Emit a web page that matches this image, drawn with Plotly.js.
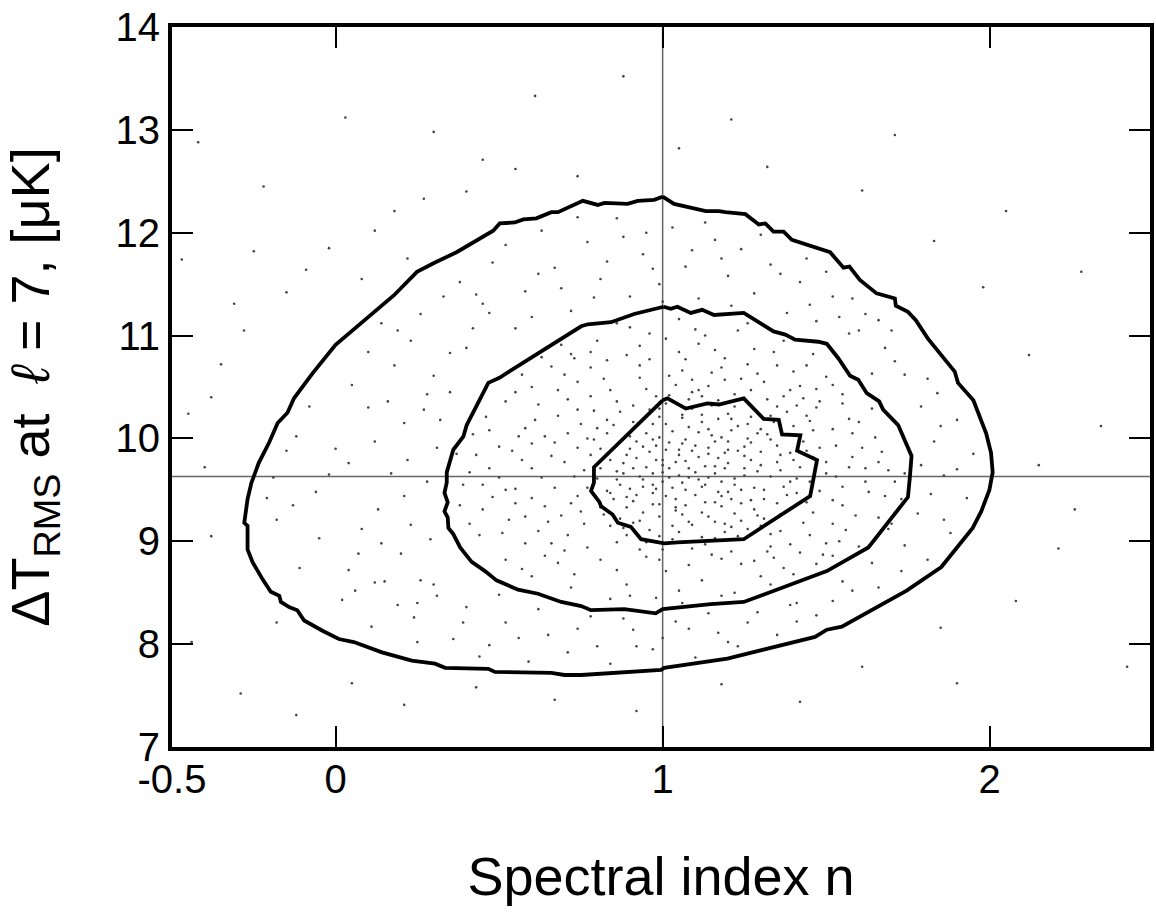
<!DOCTYPE html>
<html>
<head>
<meta charset="utf-8">
<script src="https://cdn.plot.ly/plotly-3.0.1.min.js"></script>
<style>html,body{margin:0;padding:0;background:#fff;}#chart{width:1156px;height:917px;}</style>
</head>
<body>
<div id="chart"></div>
<script>
// ---- reference lines ----
const refN = 1.0;
const refT = 9.63;

// ---- tick labels ----
const xTickVals = [-0.5, 0, 1, 2];
const xTickText = ['-0.5', '0', '1', '2'];
const yTickVals = [7, 8, 9, 10, 11, 12, 13, 14];

// ---- contour: outer ----
const outerN = [1.00,1.035,1.132,1.172,1.192,1.253,1.294,1.314,1.339,1.370,1.395,1.456,1.512,1.553,1.571,1.603,1.654,1.710,1.713,1.750,1.774,1.811,1.893,1.903,1.950,1.989,2.004,2.009,1.999,1.974,1.948,1.852,1.746,1.548,1.502,1.466,1.360,1.258,1.198,1.005,0.995,0.751,0.700,0.660,0.487,0.467,0.335,0.304,0.233,0.142,0.056,0.010,-0.040,-0.096,-0.117,-0.142,-0.167,-0.172,-0.198,-0.223,-0.254,-0.269,-0.269,-0.279,-0.269,-0.257,-0.235,-0.203,-0.177,-0.147,-0.127,-0.071,0.000,0.178,0.249,0.304,0.370,0.482,0.502,0.548,0.574,0.614,0.660,0.680,0.756,0.802,0.822,0.893,0.924,0.974,1.00];
const outerT = [12.35,12.28,12.21,12.21,12.20,12.18,12.08,12.09,12.01,12.01,11.93,11.87,11.81,11.66,11.67,11.54,11.41,11.36,11.29,11.23,11.15,10.97,10.65,10.54,10.37,10.05,9.86,9.67,9.50,9.29,9.13,8.75,8.52,8.17,8.14,8.07,7.99,7.91,7.86,7.77,7.75,7.70,7.70,7.72,7.73,7.76,7.77,7.81,7.84,7.92,8.02,8.05,8.13,8.23,8.33,8.36,8.41,8.47,8.51,8.63,8.80,8.92,9.15,9.18,9.41,9.57,9.76,9.96,10.15,10.25,10.39,10.63,10.91,11.39,11.62,11.71,11.81,12.02,12.09,12.10,12.13,12.14,12.20,12.20,12.31,12.27,12.29,12.28,12.31,12.32,12.35];

// ---- contour: middle ----
const middleN = [1.003,1.025,1.045,1.086,1.121,1.157,1.248,1.339,1.375,1.405,1.476,1.502,1.537,1.573,1.598,1.624,1.662,1.674,1.720,1.761,1.756,1.750,1.629,1.502,1.451,1.360,1.248,1.147,1.000,0.979,0.883,0.781,0.751,0.690,0.619,0.558,0.492,0.457,0.416,0.381,0.360,0.345,0.343,0.333,0.343,0.333,0.340,0.340,0.360,0.391,0.401,0.467,0.501,0.751,0.771,0.842,0.913,1.003];
const middleT = [11.28,11.26,11.28,11.22,11.25,11.20,11.22,11.04,11.01,10.96,10.94,10.92,10.78,10.61,10.57,10.44,10.36,10.28,10.13,9.83,9.63,9.43,8.94,8.71,8.65,8.54,8.41,8.39,8.34,8.30,8.34,8.33,8.37,8.41,8.49,8.53,8.62,8.71,8.80,8.94,9.07,9.13,9.23,9.29,9.38,9.47,9.57,9.67,9.89,10.02,10.13,10.54,10.59,11.09,11.11,11.13,11.21,11.28];

// ---- contour: inner ----
const innerN = [1.000,1.015,1.071,1.137,1.172,1.248,1.309,1.355,1.365,1.421,1.411,1.472,1.451,1.248,1.045,1.005,0.934,0.903,0.863,0.847,0.812,0.807,0.781,0.790,0.790,1.000];
const innerT = [10.37,10.39,10.29,10.34,10.33,10.39,10.19,10.18,10.04,10.03,9.88,9.79,9.44,9.02,8.99,8.98,9.02,9.14,9.18,9.26,9.34,9.38,9.49,9.57,9.72,10.37];

// ---- sample points: inside the middle contour ----
const denseN = [1.02,0.87,1.23,0.95,1.31,0.66,1.12,1.48,0.79,1.06, 0.91,1.37,0.72,1.18,1.27,0.98,0.83,1.41,1.09,0.61, 1.15,0.93,1.33,1.53,0.55,1.04,1.21,0.76,1.29,0.89, 1.44,0.68,1.58,0.52,1.11,0.97,1.19,1.36,0.84,1.07, 1.26,0.71,1.46,0.58,1.63,1.01,1.24,0.81,0.47,1.67, 1.14,0.99,0.86,1.32,1.39,0.74,0.63,1.08,1.16,0.94, 1.22,1.03,0.88,1.28,1.47,0.57,1.55,0.96,1.19,0.78, 1.34,0.69,1.52,0.51,1.42,0.64,1.12,0.89,1.30,0.73, 1.60,0.45,0.42,1.71,1.05,1.13,0.92,1.20,1.00,1.10, 0.85,1.35,1.25,0.97,1.17,1.08,0.90,0.82,1.40,1.03, 1.22,0.77,1.45,0.60,1.50,1.15,0.93,1.27,0.75,1.38, 1.06,0.95,1.14,1.30,0.86,1.01,1.24,0.91,1.09,1.33, 0.80,1.18,1.42,0.99,1.27,0.83,1.11,1.36,0.70,1.04, 0.54,1.62,0.62,1.57,0.48,1.66,0.58,1.49,0.68,1.37, 1.23,0.86,1.05,0.72,1.44,1.52,0.46,0.39,0.37,1.73, 1.01,1.16,0.94,1.07,1.20,0.89,1.26,1.12,0.97,1.31, 1.04,1.14,0.88,1.23,1.39,0.79,1.09,1.33,0.96,1.17, 0.84,1.29,1.02,1.21,0.92,1.35,1.06,0.81,1.43,1.11, 0.99,1.19,1.28,0.90,1.44,1.05,1.15,0.85,1.25,1.00, 0.75,1.32,0.71,1.48,1.13,0.95,1.39,0.78,1.07,1.26, 0.65,1.55,0.56,1.61,0.99,1.21,0.82,1.31,0.60,1.56, 0.70,1.40,1.08,0.86,1.45,0.50,1.69,0.63,1.16,0.93, 1.00,1.04,1.11,1.17,0.96,1.08,1.22,1.13,0.93,1.06, 1.18,1.24,1.35,0.87,1.12,1.30,0.81,1.41,0.98,1.27, 0.74,1.19,1.36,0.89,1.02,1.46,0.67,1.52,0.77,1.34, 0.53,1.58,0.43,1.65,1.10,0.80,1.37,0.66,1.28,1.50, 0.98,1.18,0.72,1.33,0.84,1.05,0.57,1.47,0.41,1.71, 1.03,1.16,0.91,1.25,1.09,0.97,1.20,1.14,1.01,0.86, 1.30,0.78,1.38,0.94,1.22,1.07,0.89,1.46,1.12,0.99, 1.24,0.74,1.55,0.60,1.19,1.36,0.84,1.43,1.05,0.93];
const denseT = [9.71,9.55,10.12,10.48,9.22,9.83,9.04,9.91,10.27,10.66, 9.18,10.41,9.37,9.58,9.79,9.93,10.05,9.47,10.29,10.18, 8.87,8.92,8.95,9.63,9.51,9.33,9.41,9.69,10.63,10.81, 10.22,10.47,10.05,10.36,10.92,9.47,9.86,9.69,9.79,9.99, 9.12,9.06,9.28,9.24,9.48,8.71,8.78,8.82,9.71,9.87, 10.51,10.21,10.36,10.04,9.86,9.91,9.62,9.62,9.19,9.28, 10.31,10.07,9.66,9.52,10.48,10.62,10.34,11.02,10.78,10.69, 10.84,10.91,9.17,9.08,8.89,8.86,8.62,8.58,8.66,8.68, 8.95,9.31,10.04,9.58,9.84,9.73,9.81,9.97,9.58,9.45, 9.41,9.37,9.64,10.14,10.19,10.38,10.02,9.26,10.12,9.15, 9.27,9.52,9.58,9.95,9.77,10.64,10.59,10.47,10.14,10.26, 9.26,9.72,9.91,9.87,9.93,10.34,9.50,9.39,9.16,9.63, 9.61,9.34,9.72,9.05,10.21,10.18,10.06,9.10,9.77,10.52, 9.88,9.71,10.33,10.19,9.43,9.23,8.98,8.87,8.79,8.74, 11.05,11.12,11.16,10.82,10.71,10.52,10.21,9.55,9.85,9.41, 9.89,9.66,9.60,9.50,9.76,9.84,10.00,10.16,9.36,9.41, 9.41,9.24,9.13,9.05,9.58,9.99,10.45,10.22,10.28,9.48, 9.47,9.68,9.62,10.08,9.97,9.93,10.23,9.33,9.97,9.82, 10.01,9.17,9.31,9.51,9.38,9.09,10.32,10.13,9.92,9.79, 9.29,10.38,10.05,9.49,8.97,8.99,10.47,10.41,10.77,10.72, 9.19,9.35,10.02,9.91,8.82,8.90,10.58,10.55,9.42,9.11, 10.62,10.65,8.77,8.72,9.06,9.62,9.69,10.79,10.86,10.90, 9.67,9.77,9.60,9.81,9.87,9.71,9.61,9.38,9.20,9.95, 10.01,9.20,9.77,10.26,10.41,9.15,9.71,10.32,10.41,9.40, 9.44,10.57,10.13,9.06,10.61,9.82,9.52,10.09,8.94,8.84, 9.21,9.82,9.84,10.01,11.06,10.95,10.95,8.98,8.81,8.98, 8.45,8.47,8.55,8.58,8.44,8.52,8.73,8.78,9.17,9.28, 9.52,9.97,9.71,9.83,9.88,9.55,9.48,10.09,10.14,9.60, 10.09,9.84,9.45,10.19,10.43,9.35,9.33,10.08,9.53,9.24, 10.58,10.28,9.53,9.71,9.09,9.26,10.47,10.39,10.84,10.71];

// ---- more sample points inside the middle contour (densest part) ----
const coreN = [1.05,0.98,1.13,1.19,0.90,1.27,1.08,0.95,1.16,1.01, 0.87,1.29,1.34,0.80,1.41,0.83,1.10,1.23,0.93,1.06, 1.20,0.99,1.12,0.96,1.25,1.37,0.79,1.44,1.03,1.17, 0.73,1.50,0.68,1.47,0.64,1.52,0.70,1.39,1.00,1.18, 0.86,1.32,0.60,1.50,0.83,1.28,1.01,0.74,1.42,1.09, 0.50,1.60,0.45,1.68,0.55,1.59,0.62,1.54,0.41,1.74, 1.07,1.14,0.97,1.22,1.04,0.92,1.30,1.15,0.88,1.26, 1.02,1.11,0.91,1.35,0.77,1.40,0.84,1.21,1.09,0.95, 0.76,1.33,0.67,1.53,0.71,1.45,0.58,1.62,0.52,1.66, 1.13,0.90,1.26,0.78,1.46,0.66,1.55,0.55,1.64,0.47, 0.38,1.70,0.44,1.52,0.52,1.40,0.60,1.22,0.90,1.06, 1.00,1.10,1.18,0.94,1.25,1.05,0.86,1.36,1.12,0.99, 1.29,0.81,1.16,0.91,1.38,1.06,1.20,0.97,1.31,1.08, 0.73,1.18,1.35,0.96,0.64,1.48,0.57,1.57,0.69,1.43, 1.02,1.14,0.89,1.24,1.07,0.94,1.21,1.16,0.98,1.33];
const coreT = [9.64,9.79,9.55,9.71,9.90,9.96,10.11,10.05,9.38,9.44, 9.22,9.25,10.16,10.10,9.61,9.49,9.93,9.88,9.63,10.20, 10.24,10.29,9.28,9.11,9.03,9.53,9.58,9.88,9.02,10.37, 9.63,9.66,10.22,10.30,9.34,9.40,8.91,8.97,8.92,8.83, 8.99,8.90,10.50,10.60,10.76,10.87,10.97,10.55,10.51,10.57, 9.92,10.16,9.55,9.44,9.37,9.25,9.10,9.00,9.67,9.66, 9.78,9.85,9.66,9.55,9.30,9.45,9.74,10.03,9.76,10.14, 10.42,10.47,10.32,10.31,10.00,9.79,9.15,9.14,8.93,8.85, 9.17,9.07,9.96,9.93,10.38,10.17,10.10,9.58,9.50,9.77, 11.00,11.08,11.12,10.84,10.82,10.70,10.43,10.45,10.29,10.08, 9.35,9.17,9.06,8.86,8.82,8.68,8.66,8.50,8.47,8.40, 9.74,9.67,9.44,9.53,9.71,9.89,9.68,9.84,10.23,9.36, 10.05,9.90,9.03,10.16,10.04,9.57,9.89,9.99,9.50,9.19, 10.78,10.69,10.71,10.77,10.02,10.36,9.79,9.72,9.25,9.18, 9.96,9.62,9.43,9.37,10.30,9.92,10.19,9.73,9.51,9.99];

// ---- sample points: between middle and outer contours ----
const ringN = [-0.21,-0.15,-0.18,-0.08,-0.02,0.05,-0.11,0.02,0.08,0.12, 0.15,0.18,0.21,0.24,0.27,0.29,0.10,0.19,0.26,0.31, -0.05,0.04,0.13,0.22,0.07,-0.12,0.16,0.30,0.25,0.11, 0.38,0.45,0.52,0.58,0.63,0.67,0.72,0.77,0.81,0.86, 0.90,0.94,0.99,1.03,1.07,1.11,1.16,1.20,1.24,1.28, 1.33,1.38,1.42,1.47,1.52,1.57,0.48,0.60,0.74,0.88, 1.00,1.13,1.30,0.42,0.55,0.97,1.21,0.83,0.69,1.09, 1.62,1.68,1.74,1.79,1.83,1.86,1.90,1.93,1.88,1.81, 1.73,1.66,1.78,1.84,1.70,1.64,1.79,1.95,1.58,1.69, 0.36,0.44,0.52,0.59,0.65,0.71,0.78,0.84,0.91,0.97, 1.04,1.10,1.17,1.23,1.29,1.35,1.41,1.47,0.40,0.62, 0.88,1.14,1.20,0.50,0.47,1.52,1.39,0.30,0.80,1.00, 0.06,0.20,0.28,0.32,0.35,0.14, 0.14,0.33,0.40,0.47,0.23, 1.50,1.44,1.58,1.66,1.54, -0.19,-0.13,0.00,0.10,0.17,0.23,0.26,0.19,0.04,-0.06, 0.31,0.28,0.21,0.35,0.43,0.62,0.79,0.95,1.18,1.36, 1.45,1.60,1.71,1.81,1.85,1.90,1.82,1.86,1.74,1.64, 1.55,1.41,1.26,1.08,0.92,0.74,0.56,0.39,0.25,0.12];
const ringT = [9.42,9.88,9.21,10.31,9.65,10.52,8.74,8.43,9.12,9.97, 8.61,10.71,9.44,8.26,10.28,9.02,10.84,11.05,11.21,8.47, 9.03,9.76,9.31,9.79,8.88,10.02,10.36,10.61,8.02,8.17, 11.52,11.31,11.88,11.43,12.02,11.66,11.24,11.91,11.55,12.14, 11.38,11.79,11.50,12.05,11.67,11.36,11.93,11.58,11.84,11.41, 11.69,11.22,11.52,11.14,11.38,11.02,11.71,11.18,12.15,11.96, 11.33,12.10,11.98,11.07,11.07,11.65,11.29,11.72,11.46,11.83, 11.21,10.88,10.62,10.31,9.97,9.64,10.18,9.42,9.08,8.82, 8.71,8.55,9.27,10.44,11.05,10.63,9.74,9.85,8.52,9.12, 8.05,7.88,8.21,7.83,8.09,7.92,8.27,7.81,8.14,7.95, 8.22,7.87,8.11,7.98,8.31,8.09,8.22,8.28,8.36,8.34, 8.25,8.30,8.02,8.48,7.99,8.42,8.38,8.58,7.98,8.06, 8.52,8.88,9.58,10.18,10.45,8.98, 11.12,11.38,10.88,11.22,10.95, 11.62,11.75,11.36,11.15,11.18, 9.62,9.35,9.90,10.30,9.66,9.16,8.62,8.38,8.72,9.48, 9.91,10.43,10.15,10.83,11.40,11.60,11.37,12.00,11.75,11.60, 11.30,11.05,10.75,10.58,10.12,9.70,9.46,9.21,8.96,8.79, 8.61,8.40,8.21,8.15,7.98,8.15,8.06,8.21,8.40,8.60];

// ---- sample points: outside the outer contour ----
const strayN = [-0.42,-0.31,-0.45,-0.38,-0.44,-0.29,-0.12,0.05,0.21,0.43, 0.67,0.92,1.18,1.42,1.61,1.85,2.08,2.21,2.15,2.34, 2.12,1.98,1.83,1.61,1.32,1.05,0.74,0.45,0.18,-0.09, -0.22,0.61,1.21,2.42,2.28,-0.35,0.03,0.88,1.71,2.05, -0.18,2.26,0.30,-0.47,1.90, -0.28,-0.15,-0.02,0.12,0.27,-0.38,-0.40,0.40,0.55,-0.25,0.22,0.08];
const strayT = [12.88,11.31,10.24,9.05,8.02,7.52,7.31,7.62,7.41,7.58, 7.46,7.35,7.61,7.44,7.78,8.16,8.42,8.93,9.74,10.12, 10.81,11.47,11.92,12.41,12.64,12.82,12.55,12.71,12.21,11.64, 12.45,13.33,13.10,7.78,11.62,10.72,13.12,13.52,12.95,12.21, 8.21,9.31,12.98,11.74,7.62, 11.05,11.42,11.85,12.02,12.33,10.40,9.72,12.40,12.62,11.82,11.75,11.55];

const dotsN = denseN.concat(coreN, ringN, strayN);
const dotsT = denseT.concat(coreT, ringT, strayT);

const FONT = 'Liberation Sans, Arial, Helvetica, sans-serif';
const contourLine = {color: '#000', width: 3.8};

const traces = [
  {type: 'scatter', mode: 'markers', x: dotsN, y: dotsT, hoverinfo: 'skip',
   marker: {size: 2.6, color: '#444', line: {width: 0}}, showlegend: false},
  {type: 'scatter', mode: 'lines', x: outerN, y: outerT, line: contourLine, showlegend: false},
  {type: 'scatter', mode: 'lines', x: middleN, y: middleT, line: contourLine, showlegend: false},
  {type: 'scatter', mode: 'lines', x: innerN, y: innerT, line: contourLine, showlegend: false}
];

const layout = {
  width: 1156, height: 917,
  margin: {l: 172, r: 6, t: 27, b: 170, pad: 0},
  paper_bgcolor: '#fff', plot_bgcolor: '#fff',
  font: {family: FONT, color: '#000'},
  showlegend: false,
  xaxis: {
    range: [-0.5, 2.49], tickvals: xTickVals, ticktext: xTickText,
    ticks: 'inside', ticklen: 21, tickwidth: 2, tickcolor: '#000',
    showline: true, linewidth: 4, linecolor: '#000', mirror: 'ticks',
    showgrid: false, zeroline: false,
    tickfont: {size: 40, family: FONT},
    ticklabelstandoff: -6,
    title: {text: 'Spectral index n', font: {size: 54, family: FONT}, standoff: 58},
    automargin: false
  },
  yaxis: {
    range: [7, 14], tickvals: yTickVals,
    ticks: 'inside', ticklen: 21, tickwidth: 2, tickcolor: '#000',
    showline: true, linewidth: 4, linecolor: '#000', mirror: 'ticks',
    showgrid: false, zeroline: false,
    tickfont: {size: 40, family: FONT},
    title: {text: 'ΔT<sub>RMS</sub> at  <i>ℓ</i> = 7, [μK]', font: {size: 54, family: FONT}, standoff: 50},
    automargin: false
  },
  shapes: [
    {type: 'line', xref: 'x', yref: 'paper', x0: refN, x1: refN, y0: 0, y1: 1, line: {color: '#666', width: 1.5}, layer: 'below'},
    {type: 'line', xref: 'paper', yref: 'y', x0: 0, x1: 1, y0: refT, y1: refT, line: {color: '#666', width: 1.5}, layer: 'below'}
  ]
};

Plotly.newPlot('chart', traces, layout, {displayModeBar: false, staticPlot: true});
</script>
</body>
</html>
